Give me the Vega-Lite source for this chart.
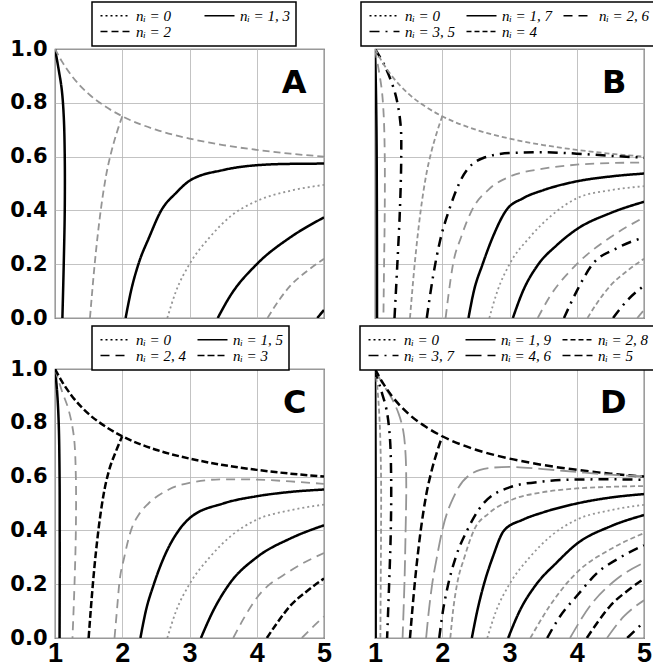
{
"$schema": "https://vega.github.io/schema/vega-lite/v6.json",
"padding": {"left": 9, "top": 0, "right": 0, "bottom": 0},
"config": {
 "view": {"stroke": "#333", "strokeWidth": 1.2},
 "axis": {"gridColor": "#b4b4b4", "gridWidth": 0.8, "ticks": false, "domain": false, "labelFontWeight": "bold", "labelColor": "black", "labelFlush": false},
 "axisX": {"labelFont": "Liberation Sans", "labelFontSize": 27, "labelPadding": 2},
 "axisY": {"labelFont": "DejaVu Sans", "labelFontSize": 21, "labelPadding": 8},
 "legend": {"labelFont": "Liberation Serif", "labelFontStyle": "italic", "labelFontSize": 15, "labelColor": "black", "symbolType": "M-1,0L5,0", "symbolSize": 100, "symbolStrokeWidth": 1.6, "symbolStrokeColor": "black", "symbolFillColor": "transparent", "strokeColor": "black", "strokeWidth": 1.5, "fillColor": "white", "padding": 6, "rowPadding": 0, "columnPadding": 8, "labelOffset": 23}
},
"datasets": {
 "Av": [
  {"c":"v25","s":"nᵢ = 1, 3","x":1,"y":1},{"c":"v25","s":"nᵢ = 1, 3","x":1.05,"y":0.93},{"c":"v25","s":"nᵢ = 1, 3","x":1.1,"y":0.85},{"c":"v25","s":"nᵢ = 1, 3","x":1.13,"y":0.75},{"c":"v25","s":"nᵢ = 1, 3","x":1.145,"y":0.6},{"c":"v25","s":"nᵢ = 1, 3","x":1.145,"y":0.4},{"c":"v25","s":"nᵢ = 1, 3","x":1.13,"y":0.2},{"c":"v25","s":"nᵢ = 1, 3","x":1.11,"y":0}
 ],
 "Ah": [
  {"c":"e","s":"nᵢ = 2","x":1,"y":1},{"c":"e","s":"nᵢ = 2","x":1.1,"y":0.955},{"c":"e","s":"nᵢ = 2","x":1.25,"y":0.9},{"c":"e","s":"nᵢ = 2","x":1.5,"y":0.833},{"c":"e","s":"nᵢ = 2","x":1.75,"y":0.786},{"c":"e","s":"nᵢ = 2","x":2,"y":0.75},{"c":"e","s":"nᵢ = 2","x":2.5,"y":0.7},{"c":"e","s":"nᵢ = 2","x":3,"y":0.667},{"c":"e","s":"nᵢ = 2","x":3.5,"y":0.643},{"c":"e","s":"nᵢ = 2","x":4,"y":0.625},{"c":"e","s":"nᵢ = 2","x":4.5,"y":0.611},{"c":"e","s":"nᵢ = 2","x":5,"y":0.6},
  {"c":"h50","s":"nᵢ = 2","x":1.52,"y":0},{"c":"h50","s":"nᵢ = 2","x":1.59,"y":0.2},{"c":"h50","s":"nᵢ = 2","x":1.68,"y":0.4},{"c":"h50","s":"nᵢ = 2","x":1.76,"y":0.53},{"c":"h50","s":"nᵢ = 2","x":1.84,"y":0.62},{"c":"h50","s":"nᵢ = 2","x":1.92,"y":0.69},{"c":"h50","s":"nᵢ = 2","x":2,"y":0.75},
  {"c":"h75","s":"nᵢ = 1, 3","x":2.05,"y":0},{"c":"h75","s":"nᵢ = 1, 3","x":2.13,"y":0.1},{"c":"h75","s":"nᵢ = 1, 3","x":2.24,"y":0.2},{"c":"h75","s":"nᵢ = 1, 3","x":2.4,"y":0.3},{"c":"h75","s":"nᵢ = 1, 3","x":2.58,"y":0.4},{"c":"h75","s":"nᵢ = 1, 3","x":2.8,"y":0.465},{"c":"h75","s":"nᵢ = 1, 3","x":3,"y":0.51},{"c":"h75","s":"nᵢ = 1, 3","x":3.5,"y":0.55},{"c":"h75","s":"nᵢ = 1, 3","x":4,"y":0.568},{"c":"h75","s":"nᵢ = 1, 3","x":4.5,"y":0.573},{"c":"h75","s":"nᵢ = 1, 3","x":5,"y":0.574},
  {"c":"h100","s":"nᵢ = 0","x":2.67,"y":0},{"c":"h100","s":"nᵢ = 0","x":2.8,"y":0.1},{"c":"h100","s":"nᵢ = 0","x":3,"y":0.2},{"c":"h100","s":"nᵢ = 0","x":3.3,"y":0.3},{"c":"h100","s":"nᵢ = 0","x":3.62,"y":0.38},{"c":"h100","s":"nᵢ = 0","x":4,"y":0.435},{"c":"h100","s":"nᵢ = 0","x":4.5,"y":0.473},{"c":"h100","s":"nᵢ = 0","x":5,"y":0.495},
  {"c":"h125","s":"nᵢ = 1, 3","x":3.42,"y":0},{"c":"h125","s":"nᵢ = 1, 3","x":3.6,"y":0.08},{"c":"h125","s":"nᵢ = 1, 3","x":4,"y":0.2},{"c":"h125","s":"nᵢ = 1, 3","x":4.5,"y":0.3},{"c":"h125","s":"nᵢ = 1, 3","x":5,"y":0.374},
  {"c":"h150","s":"nᵢ = 2","x":4.16,"y":0},{"c":"h150","s":"nᵢ = 2","x":4.3,"y":0.055},{"c":"h150","s":"nᵢ = 2","x":4.5,"y":0.12},{"c":"h150","s":"nᵢ = 2","x":4.75,"y":0.175},{"c":"h150","s":"nᵢ = 2","x":5,"y":0.22},
  {"c":"h175","s":"nᵢ = 1, 3","x":4.9,"y":0},{"c":"h175","s":"nᵢ = 1, 3","x":5,"y":0.03}
 ],
 "Bv": [
  {"c":"v125","s":"nᵢ = 1, 7","x":1,"y":1},{"c":"v125","s":"nᵢ = 1, 7","x":1.01,"y":0.9},{"c":"v125","s":"nᵢ = 1, 7","x":1.022,"y":0.7},{"c":"v125","s":"nᵢ = 1, 7","x":1.028,"y":0.4},{"c":"v125","s":"nᵢ = 1, 7","x":1.03,"y":0},
  {"c":"v25","s":"nᵢ = 2, 6","x":1,"y":1},{"c":"v25","s":"nᵢ = 2, 6","x":1.05,"y":0.93},{"c":"v25","s":"nᵢ = 2, 6","x":1.1,"y":0.85},{"c":"v25","s":"nᵢ = 2, 6","x":1.13,"y":0.75},{"c":"v25","s":"nᵢ = 2, 6","x":1.145,"y":0.6},{"c":"v25","s":"nᵢ = 2, 6","x":1.145,"y":0.4},{"c":"v25","s":"nᵢ = 2, 6","x":1.135,"y":0.2},{"c":"v25","s":"nᵢ = 2, 6","x":1.125,"y":0},
  {"c":"v375","s":"nᵢ = 3, 5","x":1,"y":1},{"c":"v375","s":"nᵢ = 3, 5","x":1.14,"y":0.94},{"c":"v375","s":"nᵢ = 3, 5","x":1.3,"y":0.835},{"c":"v375","s":"nᵢ = 3, 5","x":1.38,"y":0.72},{"c":"v375","s":"nᵢ = 3, 5","x":1.39,"y":0.6},{"c":"v375","s":"nᵢ = 3, 5","x":1.37,"y":0.4},{"c":"v375","s":"nᵢ = 3, 5","x":1.33,"y":0.19},{"c":"v375","s":"nᵢ = 3, 5","x":1.29,"y":0}
 ],
 "Bh": [
  {"c":"e","s":"nᵢ = 4","x":1,"y":1},{"c":"e","s":"nᵢ = 4","x":1.1,"y":0.955},{"c":"e","s":"nᵢ = 4","x":1.25,"y":0.9},{"c":"e","s":"nᵢ = 4","x":1.5,"y":0.833},{"c":"e","s":"nᵢ = 4","x":1.75,"y":0.786},{"c":"e","s":"nᵢ = 4","x":2,"y":0.75},{"c":"e","s":"nᵢ = 4","x":2.5,"y":0.7},{"c":"e","s":"nᵢ = 4","x":3,"y":0.667},{"c":"e","s":"nᵢ = 4","x":3.5,"y":0.643},{"c":"e","s":"nᵢ = 4","x":4,"y":0.625},{"c":"e","s":"nᵢ = 4","x":4.5,"y":0.611},{"c":"e","s":"nᵢ = 4","x":5,"y":0.6},
  {"c":"h50","s":"nᵢ = 4","x":1.52,"y":0},{"c":"h50","s":"nᵢ = 4","x":1.59,"y":0.2},{"c":"h50","s":"nᵢ = 4","x":1.68,"y":0.4},{"c":"h50","s":"nᵢ = 4","x":1.76,"y":0.53},{"c":"h50","s":"nᵢ = 4","x":1.84,"y":0.62},{"c":"h50","s":"nᵢ = 4","x":1.92,"y":0.69},{"c":"h50","s":"nᵢ = 4","x":2,"y":0.75},
  {"c":"h625","s":"nᵢ = 3, 5","x":1.77,"y":0},{"c":"h625","s":"nᵢ = 3, 5","x":1.86,"y":0.15},{"c":"h625","s":"nᵢ = 3, 5","x":1.97,"y":0.29},{"c":"h625","s":"nᵢ = 3, 5","x":2.1,"y":0.4},{"c":"h625","s":"nᵢ = 3, 5","x":2.27,"y":0.51},{"c":"h625","s":"nᵢ = 3, 5","x":2.6,"y":0.594},{"c":"h625","s":"nᵢ = 3, 5","x":3,"y":0.613},{"c":"h625","s":"nᵢ = 3, 5","x":3.5,"y":0.616},{"c":"h625","s":"nᵢ = 3, 5","x":4,"y":0.611},{"c":"h625","s":"nᵢ = 3, 5","x":4.5,"y":0.603},{"c":"h625","s":"nᵢ = 3, 5","x":5,"y":0.596},
  {"c":"h75","s":"nᵢ = 2, 6","x":2.05,"y":0},{"c":"h75","s":"nᵢ = 2, 6","x":2.1,"y":0.1},{"c":"h75","s":"nᵢ = 2, 6","x":2.16,"y":0.2},{"c":"h75","s":"nᵢ = 2, 6","x":2.28,"y":0.3},{"c":"h75","s":"nᵢ = 2, 6","x":2.44,"y":0.4},{"c":"h75","s":"nᵢ = 2, 6","x":2.7,"y":0.48},{"c":"h75","s":"nᵢ = 2, 6","x":3,"y":0.525},{"c":"h75","s":"nᵢ = 2, 6","x":3.5,"y":0.555},{"c":"h75","s":"nᵢ = 2, 6","x":4,"y":0.57},{"c":"h75","s":"nᵢ = 2, 6","x":4.5,"y":0.576},{"c":"h75","s":"nᵢ = 2, 6","x":5,"y":0.578},
  {"c":"h875","s":"nᵢ = 1, 7","x":2.39,"y":0},{"c":"h875","s":"nᵢ = 1, 7","x":2.47,"y":0.1},{"c":"h875","s":"nᵢ = 1, 7","x":2.6,"y":0.2},{"c":"h875","s":"nᵢ = 1, 7","x":2.75,"y":0.3},{"c":"h875","s":"nᵢ = 1, 7","x":2.95,"y":0.4},{"c":"h875","s":"nᵢ = 1, 7","x":3.2,"y":0.445},{"c":"h875","s":"nᵢ = 1, 7","x":3.5,"y":0.475},{"c":"h875","s":"nᵢ = 1, 7","x":4,"y":0.508},{"c":"h875","s":"nᵢ = 1, 7","x":4.5,"y":0.526},{"c":"h875","s":"nᵢ = 1, 7","x":5,"y":0.537},
  {"c":"h100","s":"nᵢ = 0","x":2.7,"y":0},{"c":"h100","s":"nᵢ = 0","x":2.82,"y":0.1},{"c":"h100","s":"nᵢ = 0","x":3,"y":0.2},{"c":"h100","s":"nᵢ = 0","x":3.3,"y":0.3},{"c":"h100","s":"nᵢ = 0","x":3.62,"y":0.38},{"c":"h100","s":"nᵢ = 0","x":4,"y":0.445},{"c":"h100","s":"nᵢ = 0","x":4.5,"y":0.475},{"c":"h100","s":"nᵢ = 0","x":5,"y":0.49},
  {"c":"h1125","s":"nᵢ = 1, 7","x":3.05,"y":0},{"c":"h1125","s":"nᵢ = 1, 7","x":3.2,"y":0.1},{"c":"h1125","s":"nᵢ = 1, 7","x":3.43,"y":0.2},{"c":"h1125","s":"nᵢ = 1, 7","x":3.7,"y":0.27},{"c":"h1125","s":"nᵢ = 1, 7","x":4,"y":0.33},{"c":"h1125","s":"nᵢ = 1, 7","x":4.5,"y":0.39},{"c":"h1125","s":"nᵢ = 1, 7","x":5,"y":0.432},
  {"c":"h125","s":"nᵢ = 2, 6","x":3.42,"y":0},{"c":"h125","s":"nᵢ = 2, 6","x":3.6,"y":0.08},{"c":"h125","s":"nᵢ = 2, 6","x":4,"y":0.2},{"c":"h125","s":"nᵢ = 2, 6","x":4.5,"y":0.3},{"c":"h125","s":"nᵢ = 2, 6","x":5,"y":0.374},
  {"c":"h1375","s":"nᵢ = 3, 5","x":3.81,"y":0},{"c":"h1375","s":"nᵢ = 3, 5","x":4,"y":0.1},{"c":"h1375","s":"nᵢ = 3, 5","x":4.22,"y":0.195},{"c":"h1375","s":"nᵢ = 3, 5","x":4.6,"y":0.26},{"c":"h1375","s":"nᵢ = 3, 5","x":5,"y":0.3},
  {"c":"h150","s":"nᵢ = 4","x":4.16,"y":0},{"c":"h150","s":"nᵢ = 4","x":4.3,"y":0.055},{"c":"h150","s":"nᵢ = 4","x":4.5,"y":0.12},{"c":"h150","s":"nᵢ = 4","x":4.75,"y":0.175},{"c":"h150","s":"nᵢ = 4","x":5,"y":0.22},
  {"c":"h1625","s":"nᵢ = 3, 5","x":4.54,"y":0},{"c":"h1625","s":"nᵢ = 3, 5","x":4.75,"y":0.065},{"c":"h1625","s":"nᵢ = 3, 5","x":5,"y":0.12},
  {"c":"h175","s":"nᵢ = 2, 6","x":4.9,"y":0},{"c":"h175","s":"nᵢ = 2, 6","x":5,"y":0.03}
 ],
 "Cv": [
  {"c":"v167","s":"nᵢ = 1, 5","x":1,"y":1},{"c":"v167","s":"nᵢ = 1, 5","x":1.03,"y":0.92},{"c":"v167","s":"nᵢ = 1, 5","x":1.055,"y":0.8},{"c":"v167","s":"nᵢ = 1, 5","x":1.068,"y":0.6},{"c":"v167","s":"nᵢ = 1, 5","x":1.07,"y":0.4},{"c":"v167","s":"nᵢ = 1, 5","x":1.07,"y":0.2},{"c":"v167","s":"nᵢ = 1, 5","x":1.068,"y":0},
  {"c":"v333","s":"nᵢ = 2, 4","x":1,"y":1},{"c":"v333","s":"nᵢ = 2, 4","x":1.1,"y":0.92},{"c":"v333","s":"nᵢ = 2, 4","x":1.2,"y":0.85},{"c":"v333","s":"nᵢ = 2, 4","x":1.28,"y":0.75},{"c":"v333","s":"nᵢ = 2, 4","x":1.31,"y":0.6},{"c":"v333","s":"nᵢ = 2, 4","x":1.31,"y":0.4},{"c":"v333","s":"nᵢ = 2, 4","x":1.29,"y":0.2},{"c":"v333","s":"nᵢ = 2, 4","x":1.26,"y":0}
 ],
 "Ch": [
  {"c":"e","s":"nᵢ = 3","x":1,"y":1},{"c":"e","s":"nᵢ = 3","x":1.1,"y":0.955},{"c":"e","s":"nᵢ = 3","x":1.25,"y":0.9},{"c":"e","s":"nᵢ = 3","x":1.5,"y":0.833},{"c":"e","s":"nᵢ = 3","x":1.75,"y":0.786},{"c":"e","s":"nᵢ = 3","x":2,"y":0.75},{"c":"e","s":"nᵢ = 3","x":2.5,"y":0.7},{"c":"e","s":"nᵢ = 3","x":3,"y":0.667},{"c":"e","s":"nᵢ = 3","x":3.5,"y":0.643},{"c":"e","s":"nᵢ = 3","x":4,"y":0.625},{"c":"e","s":"nᵢ = 3","x":4.5,"y":0.611},{"c":"e","s":"nᵢ = 3","x":5,"y":0.6},
  {"c":"h50","s":"nᵢ = 3","x":1.5,"y":0},{"c":"h50","s":"nᵢ = 3","x":1.57,"y":0.22},{"c":"h50","s":"nᵢ = 3","x":1.65,"y":0.41},{"c":"h50","s":"nᵢ = 3","x":1.72,"y":0.53},{"c":"h50","s":"nᵢ = 3","x":1.8,"y":0.62},{"c":"h50","s":"nᵢ = 3","x":1.9,"y":0.69},{"c":"h50","s":"nᵢ = 3","x":2,"y":0.75},
  {"c":"h667","s":"nᵢ = 2, 4","x":1.885,"y":0},{"c":"h667","s":"nᵢ = 2, 4","x":1.92,"y":0.1},{"c":"h667","s":"nᵢ = 2, 4","x":1.955,"y":0.2},{"c":"h667","s":"nᵢ = 2, 4","x":2.03,"y":0.3},{"c":"h667","s":"nᵢ = 2, 4","x":2.13,"y":0.4},{"c":"h667","s":"nᵢ = 2, 4","x":2.25,"y":0.46},{"c":"h667","s":"nᵢ = 2, 4","x":2.39,"y":0.5},{"c":"h667","s":"nᵢ = 2, 4","x":2.7,"y":0.553},{"c":"h667","s":"nᵢ = 2, 4","x":3,"y":0.577},{"c":"h667","s":"nᵢ = 2, 4","x":3.5,"y":0.59},{"c":"h667","s":"nᵢ = 2, 4","x":4,"y":0.589},{"c":"h667","s":"nᵢ = 2, 4","x":4.5,"y":0.582},{"c":"h667","s":"nᵢ = 2, 4","x":5,"y":0.573},
  {"c":"h833","s":"nᵢ = 1, 5","x":2.27,"y":0},{"c":"h833","s":"nᵢ = 1, 5","x":2.35,"y":0.1},{"c":"h833","s":"nᵢ = 1, 5","x":2.47,"y":0.2},{"c":"h833","s":"nᵢ = 1, 5","x":2.62,"y":0.3},{"c":"h833","s":"nᵢ = 1, 5","x":2.84,"y":0.4},{"c":"h833","s":"nᵢ = 1, 5","x":3,"y":0.445},{"c":"h833","s":"nᵢ = 1, 5","x":3.5,"y":0.5},{"c":"h833","s":"nᵢ = 1, 5","x":4,"y":0.527},{"c":"h833","s":"nᵢ = 1, 5","x":4.5,"y":0.543},{"c":"h833","s":"nᵢ = 1, 5","x":5,"y":0.552},
  {"c":"h100","s":"nᵢ = 0","x":2.67,"y":0},{"c":"h100","s":"nᵢ = 0","x":2.8,"y":0.1},{"c":"h100","s":"nᵢ = 0","x":3,"y":0.2},{"c":"h100","s":"nᵢ = 0","x":3.3,"y":0.3},{"c":"h100","s":"nᵢ = 0","x":3.62,"y":0.38},{"c":"h100","s":"nᵢ = 0","x":4,"y":0.44},{"c":"h100","s":"nᵢ = 0","x":4.5,"y":0.475},{"c":"h100","s":"nᵢ = 0","x":5,"y":0.496},
  {"c":"h1167","s":"nᵢ = 1, 5","x":3.17,"y":0},{"c":"h1167","s":"nᵢ = 1, 5","x":3.35,"y":0.1},{"c":"h1167","s":"nᵢ = 1, 5","x":3.59,"y":0.2},{"c":"h1167","s":"nᵢ = 1, 5","x":4,"y":0.3},{"c":"h1167","s":"nᵢ = 1, 5","x":4.5,"y":0.37},{"c":"h1167","s":"nᵢ = 1, 5","x":5,"y":0.419},
  {"c":"h1333","s":"nᵢ = 2, 4","x":3.65,"y":0},{"c":"h1333","s":"nᵢ = 2, 4","x":3.8,"y":0.07},{"c":"h1333","s":"nᵢ = 2, 4","x":4,"y":0.149},{"c":"h1333","s":"nᵢ = 2, 4","x":4.5,"y":0.25},{"c":"h1333","s":"nᵢ = 2, 4","x":5,"y":0.316},
  {"c":"h150","s":"nᵢ = 3","x":4.15,"y":0},{"c":"h150","s":"nᵢ = 3","x":4.3,"y":0.055},{"c":"h150","s":"nᵢ = 3","x":4.5,"y":0.12},{"c":"h150","s":"nᵢ = 3","x":4.75,"y":0.175},{"c":"h150","s":"nᵢ = 3","x":5,"y":0.221},
  {"c":"h1667","s":"nᵢ = 2, 4","x":4.67,"y":0},{"c":"h1667","s":"nᵢ = 2, 4","x":4.85,"y":0.045},{"c":"h1667","s":"nᵢ = 2, 4","x":5,"y":0.08}
 ],
 "Dv": [
  {"c":"v10","s":"nᵢ = 1, 9","x":1,"y":1},{"c":"v10","s":"nᵢ = 1, 9","x":1.004,"y":0.9},{"c":"v10","s":"nᵢ = 1, 9","x":1.008,"y":0.7},{"c":"v10","s":"nᵢ = 1, 9","x":1.01,"y":0.4},{"c":"v10","s":"nᵢ = 1, 9","x":1.01,"y":0},
  {"c":"v20","s":"nᵢ = 2, 8","x":1,"y":1},{"c":"v20","s":"nᵢ = 2, 8","x":1.035,"y":0.93},{"c":"v20","s":"nᵢ = 2, 8","x":1.07,"y":0.8},{"c":"v20","s":"nᵢ = 2, 8","x":1.09,"y":0.6},{"c":"v20","s":"nᵢ = 2, 8","x":1.09,"y":0.4},{"c":"v20","s":"nᵢ = 2, 8","x":1.085,"y":0.2},{"c":"v20","s":"nᵢ = 2, 8","x":1.08,"y":0},
  {"c":"v30","s":"nᵢ = 3, 7","x":1,"y":1},{"c":"v30","s":"nᵢ = 3, 7","x":1.08,"y":0.93},{"c":"v30","s":"nᵢ = 3, 7","x":1.17,"y":0.85},{"c":"v30","s":"nᵢ = 3, 7","x":1.22,"y":0.75},{"c":"v30","s":"nᵢ = 3, 7","x":1.24,"y":0.6},{"c":"v30","s":"nᵢ = 3, 7","x":1.235,"y":0.4},{"c":"v30","s":"nᵢ = 3, 7","x":1.21,"y":0.2},{"c":"v30","s":"nᵢ = 3, 7","x":1.18,"y":0},
  {"c":"v40","s":"nᵢ = 4, 6","x":1,"y":1},{"c":"v40","s":"nᵢ = 4, 6","x":1.1,"y":0.95},{"c":"v40","s":"nᵢ = 4, 6","x":1.24,"y":0.895},{"c":"v40","s":"nᵢ = 4, 6","x":1.35,"y":0.835},{"c":"v40","s":"nᵢ = 4, 6","x":1.42,"y":0.77},{"c":"v40","s":"nᵢ = 4, 6","x":1.455,"y":0.68},{"c":"v40","s":"nᵢ = 4, 6","x":1.465,"y":0.55},{"c":"v40","s":"nᵢ = 4, 6","x":1.455,"y":0.4},{"c":"v40","s":"nᵢ = 4, 6","x":1.44,"y":0.22},{"c":"v40","s":"nᵢ = 4, 6","x":1.41,"y":0}
 ],
 "Dh": [
  {"c":"e","s":"nᵢ = 5","x":1,"y":1},{"c":"e","s":"nᵢ = 5","x":1.1,"y":0.955},{"c":"e","s":"nᵢ = 5","x":1.25,"y":0.9},{"c":"e","s":"nᵢ = 5","x":1.5,"y":0.833},{"c":"e","s":"nᵢ = 5","x":1.75,"y":0.786},{"c":"e","s":"nᵢ = 5","x":2,"y":0.75},{"c":"e","s":"nᵢ = 5","x":2.5,"y":0.7},{"c":"e","s":"nᵢ = 5","x":3,"y":0.667},{"c":"e","s":"nᵢ = 5","x":3.5,"y":0.643},{"c":"e","s":"nᵢ = 5","x":4,"y":0.625},{"c":"e","s":"nᵢ = 5","x":4.5,"y":0.611},{"c":"e","s":"nᵢ = 5","x":5,"y":0.6},
  {"c":"h50","s":"nᵢ = 5","x":1.52,"y":0},{"c":"h50","s":"nᵢ = 5","x":1.59,"y":0.2},{"c":"h50","s":"nᵢ = 5","x":1.68,"y":0.4},{"c":"h50","s":"nᵢ = 5","x":1.76,"y":0.53},{"c":"h50","s":"nᵢ = 5","x":1.84,"y":0.62},{"c":"h50","s":"nᵢ = 5","x":1.92,"y":0.69},{"c":"h50","s":"nᵢ = 5","x":2,"y":0.75},
  {"c":"h60","s":"nᵢ = 4, 6","x":1.76,"y":0},{"c":"h60","s":"nᵢ = 4, 6","x":1.8,"y":0.1},{"c":"h60","s":"nᵢ = 4, 6","x":1.85,"y":0.2},{"c":"h60","s":"nᵢ = 4, 6","x":1.92,"y":0.3},{"c":"h60","s":"nᵢ = 4, 6","x":2,"y":0.4},{"c":"h60","s":"nᵢ = 4, 6","x":2.2,"y":0.54},{"c":"h60","s":"nᵢ = 4, 6","x":2.43,"y":0.61},{"c":"h60","s":"nᵢ = 4, 6","x":2.7,"y":0.632},{"c":"h60","s":"nᵢ = 4, 6","x":3,"y":0.636},{"c":"h60","s":"nᵢ = 4, 6","x":3.5,"y":0.628},{"c":"h60","s":"nᵢ = 4, 6","x":4,"y":0.617},{"c":"h60","s":"nᵢ = 4, 6","x":4.5,"y":0.607},{"c":"h60","s":"nᵢ = 4, 6","x":5,"y":0.601},
  {"c":"h70","s":"nᵢ = 3, 7","x":1.955,"y":0},{"c":"h70","s":"nᵢ = 3, 7","x":2.01,"y":0.1},{"c":"h70","s":"nᵢ = 3, 7","x":2.08,"y":0.19},{"c":"h70","s":"nᵢ = 3, 7","x":2.2,"y":0.3},{"c":"h70","s":"nᵢ = 3, 7","x":2.38,"y":0.405},{"c":"h70","s":"nᵢ = 3, 7","x":2.55,"y":0.48},{"c":"h70","s":"nᵢ = 3, 7","x":3,"y":0.56},{"c":"h70","s":"nᵢ = 3, 7","x":3.5,"y":0.582},{"c":"h70","s":"nᵢ = 3, 7","x":4,"y":0.589},{"c":"h70","s":"nᵢ = 3, 7","x":4.5,"y":0.59},{"c":"h70","s":"nᵢ = 3, 7","x":5,"y":0.588},
  {"c":"h80","s":"nᵢ = 2, 8","x":2.12,"y":0},{"c":"h80","s":"nᵢ = 2, 8","x":2.16,"y":0.1},{"c":"h80","s":"nᵢ = 2, 8","x":2.22,"y":0.2},{"c":"h80","s":"nᵢ = 2, 8","x":2.33,"y":0.3},{"c":"h80","s":"nᵢ = 2, 8","x":2.47,"y":0.4},{"c":"h80","s":"nᵢ = 2, 8","x":2.7,"y":0.465},{"c":"h80","s":"nᵢ = 2, 8","x":3,"y":0.51},{"c":"h80","s":"nᵢ = 2, 8","x":3.5,"y":0.542},{"c":"h80","s":"nᵢ = 2, 8","x":4,"y":0.556},{"c":"h80","s":"nᵢ = 2, 8","x":4.5,"y":0.562},{"c":"h80","s":"nᵢ = 2, 8","x":5,"y":0.565},
  {"c":"h90","s":"nᵢ = 1, 9","x":2.44,"y":0},{"c":"h90","s":"nᵢ = 1, 9","x":2.52,"y":0.1},{"c":"h90","s":"nᵢ = 1, 9","x":2.62,"y":0.2},{"c":"h90","s":"nᵢ = 1, 9","x":2.75,"y":0.3},{"c":"h90","s":"nᵢ = 1, 9","x":2.92,"y":0.4},{"c":"h90","s":"nᵢ = 1, 9","x":3.2,"y":0.44},{"c":"h90","s":"nᵢ = 1, 9","x":3.5,"y":0.467},{"c":"h90","s":"nᵢ = 1, 9","x":4,"y":0.5},{"c":"h90","s":"nᵢ = 1, 9","x":4.5,"y":0.522},{"c":"h90","s":"nᵢ = 1, 9","x":5,"y":0.535},
  {"c":"h100","s":"nᵢ = 0","x":2.67,"y":0},{"c":"h100","s":"nᵢ = 0","x":2.8,"y":0.1},{"c":"h100","s":"nᵢ = 0","x":3,"y":0.2},{"c":"h100","s":"nᵢ = 0","x":3.3,"y":0.3},{"c":"h100","s":"nᵢ = 0","x":3.62,"y":0.38},{"c":"h100","s":"nᵢ = 0","x":4,"y":0.44},{"c":"h100","s":"nᵢ = 0","x":4.5,"y":0.475},{"c":"h100","s":"nᵢ = 0","x":5,"y":0.495},
  {"c":"h110","s":"nᵢ = 1, 9","x":2.98,"y":0},{"c":"h110","s":"nᵢ = 1, 9","x":3.15,"y":0.1},{"c":"h110","s":"nᵢ = 1, 9","x":3.4,"y":0.2},{"c":"h110","s":"nᵢ = 1, 9","x":3.7,"y":0.28},{"c":"h110","s":"nᵢ = 1, 9","x":4,"y":0.35},{"c":"h110","s":"nᵢ = 1, 9","x":4.5,"y":0.415},{"c":"h110","s":"nᵢ = 1, 9","x":5,"y":0.457},
  {"c":"h120","s":"nᵢ = 2, 8","x":3.31,"y":0},{"c":"h120","s":"nᵢ = 2, 8","x":3.6,"y":0.12},{"c":"h120","s":"nᵢ = 2, 8","x":4,"y":0.243},{"c":"h120","s":"nᵢ = 2, 8","x":4.5,"y":0.33},{"c":"h120","s":"nᵢ = 2, 8","x":5,"y":0.39},
  {"c":"h130","s":"nᵢ = 3, 7","x":3.56,"y":0},{"c":"h130","s":"nᵢ = 3, 7","x":3.75,"y":0.08},{"c":"h130","s":"nᵢ = 3, 7","x":4,"y":0.156},{"c":"h130","s":"nᵢ = 3, 7","x":4.31,"y":0.243},{"c":"h130","s":"nᵢ = 3, 7","x":4.65,"y":0.3},{"c":"h130","s":"nᵢ = 3, 7","x":5,"y":0.345},
  {"c":"h140","s":"nᵢ = 4, 6","x":3.9,"y":0},{"c":"h140","s":"nᵢ = 4, 6","x":4.2,"y":0.12},{"c":"h140","s":"nᵢ = 4, 6","x":4.6,"y":0.22},{"c":"h140","s":"nᵢ = 4, 6","x":5,"y":0.28},
  {"c":"h150","s":"nᵢ = 5","x":4.15,"y":0},{"c":"h150","s":"nᵢ = 5","x":4.3,"y":0.055},{"c":"h150","s":"nᵢ = 5","x":4.5,"y":0.12},{"c":"h150","s":"nᵢ = 5","x":4.75,"y":0.175},{"c":"h150","s":"nᵢ = 5","x":5,"y":0.22},
  {"c":"h160","s":"nᵢ = 4, 6","x":4.45,"y":0},{"c":"h160","s":"nᵢ = 4, 6","x":4.7,"y":0.08},{"c":"h160","s":"nᵢ = 4, 6","x":5,"y":0.14},
  {"c":"h170","s":"nᵢ = 3, 7","x":4.75,"y":0},{"c":"h170","s":"nᵢ = 3, 7","x":5,"y":0.06}
 ]
},
"concat": [
 {
  "width": 269, "height": 269,
  "layer": [
   {
    "encoding": {
     "x": {"field": "x", "type": "quantitative", "scale": {"domain": [1,5], "nice": false, "zero": false}, "axis": {"values": [1,2,3,4,5], "labels": false, "title": null}},
     "y": {"field": "y", "type": "quantitative", "scale": {"domain": [0,1], "nice": false, "zero": false}, "axis": {"values": [0,0.2,0.4,0.6,0.8,1], "format": ".1f", "title": null}},
     "detail": {"field": "c"},
     "stroke": {"condition": {"test": "datum.s == 'nᵢ = 0' || datum.s == 'nᵢ = 2'", "value": "#959595"}, "value": "#000000"},
     "strokeDash": {"field": "s", "type": "nominal", "scale": {"domain": ["nᵢ = 0","nᵢ = 1, 3","nᵢ = 2"], "range": [[2,3],[1,0],[7,4]]}, "legend": {"orient": "none", "legendX": 37, "legendY": -47, "columns": 2, "direction": "horizontal", "title": null, "symbolStrokeColor": "black", "columnPadding": 30}},
     "strokeWidth": {"condition": {"test": "datum.s == 'nᵢ = 0' || datum.s == 'nᵢ = 2'", "value": 1.8}, "value": 2.5}
    },
    "layer": [
     {"data": {"name": "Av"}, "mark": {"type": "line", "interpolate": "catmull-rom", "clip": true}, "encoding": {"order": {"field": "y", "sort": "descending"}}},
     {"data": {"name": "Ah"}, "mark": {"type": "line", "interpolate": "monotone", "clip": true}}
    ]
   },
   {"data": {"values": [{}]}, "mark": {"type": "text", "text": "A", "align": "right", "baseline": "alphabetic", "font": "DejaVu Sans", "fontWeight": "bold", "fontSize": 32, "color": "black"}, "encoding": {"x": {"datum": 4.74, "type": "quantitative"}, "y": {"datum": 0.835, "type": "quantitative"}}}
  ]
 },
 {
  "width": 269, "height": 269,
  "layer": [
   {
    "encoding": {
     "x": {"field": "x", "type": "quantitative", "scale": {"domain": [1,5], "nice": false, "zero": false}, "axis": {"values": [1,2,3,4,5], "labels": false, "title": null}},
     "y": {"field": "y", "type": "quantitative", "scale": {"domain": [0,1], "nice": false, "zero": false}, "axis": {"values": [0,0.2,0.4,0.6,0.8,1], "labels": false, "title": null}},
     "detail": {"field": "c"},
     "stroke": {"condition": {"test": "datum.s == 'nᵢ = 0' || datum.s == 'nᵢ = 2, 6' || datum.s == 'nᵢ = 4'", "value": "#959595"}, "value": "#000000"},
     "strokeDash": {"field": "s", "type": "nominal", "scale": {"domain": ["nᵢ = 0","nᵢ = 1, 7","nᵢ = 2, 6","nᵢ = 3, 5","nᵢ = 4"], "range": [[2,3],[1,0],[9,6],[10,6,2,6],[5,3]]}, "legend": {"orient": "none", "legendX": -14, "legendY": -47, "columns": 3, "direction": "horizontal", "title": null, "symbolStrokeColor": "black", "columnPadding": 8}},
     "strokeWidth": {"condition": {"test": "datum.s == 'nᵢ = 0' || datum.s == 'nᵢ = 2, 6' || datum.s == 'nᵢ = 4'", "value": 1.8}, "value": 2.5}
    },
    "layer": [
     {"data": {"name": "Bv"}, "mark": {"type": "line", "interpolate": "catmull-rom", "clip": true}, "encoding": {"order": {"field": "y", "sort": "descending"}}},
     {"data": {"name": "Bh"}, "mark": {"type": "line", "interpolate": "monotone", "clip": true}}
    ]
   },
   {"data": {"values": [{}]}, "mark": {"type": "text", "text": "B", "align": "right", "baseline": "alphabetic", "font": "DejaVu Sans", "fontWeight": "bold", "fontSize": 32, "color": "black"}, "encoding": {"x": {"datum": 4.74, "type": "quantitative"}, "y": {"datum": 0.835, "type": "quantitative"}}}
  ]
 },
 {
  "width": 269, "height": 269,
  "layer": [
   {
    "encoding": {
     "x": {"field": "x", "type": "quantitative", "scale": {"domain": [1,5], "nice": false, "zero": false}, "axis": {"values": [1,2,3,4,5], "format": "d", "title": null}},
     "y": {"field": "y", "type": "quantitative", "scale": {"domain": [0,1], "nice": false, "zero": false}, "axis": {"values": [0,0.2,0.4,0.6,0.8,1], "format": ".1f", "title": null}},
     "detail": {"field": "c"},
     "stroke": {"condition": {"test": "datum.s == 'nᵢ = 0' || datum.s == 'nᵢ = 2, 4'", "value": "#959595"}, "value": "#000000"},
     "strokeDash": {"field": "s", "type": "nominal", "scale": {"domain": ["nᵢ = 0","nᵢ = 1, 5","nᵢ = 2, 4","nᵢ = 3"], "range": [[2,3],[1,0],[9,6],[7,3]]}, "legend": {"orient": "none", "legendX": 37, "legendY": -43, "columns": 2, "direction": "horizontal", "title": null, "symbolStrokeColor": "black", "columnPadding": 8}},
     "strokeWidth": {"condition": {"test": "datum.s == 'nᵢ = 0' || datum.s == 'nᵢ = 2, 4'", "value": 1.8}, "value": 2.5}
    },
    "layer": [
     {"data": {"name": "Cv"}, "mark": {"type": "line", "interpolate": "catmull-rom", "clip": true}, "encoding": {"order": {"field": "y", "sort": "descending"}}},
     {"data": {"name": "Ch"}, "mark": {"type": "line", "interpolate": "monotone", "clip": true}}
    ]
   },
   {"data": {"values": [{}]}, "mark": {"type": "text", "text": "C", "align": "right", "baseline": "alphabetic", "font": "DejaVu Sans", "fontWeight": "bold", "fontSize": 32, "color": "black"}, "encoding": {"x": {"datum": 4.74, "type": "quantitative"}, "y": {"datum": 0.835, "type": "quantitative"}}}
  ]
 },
 {
  "width": 269, "height": 269,
  "layer": [
   {
    "encoding": {
     "x": {"field": "x", "type": "quantitative", "scale": {"domain": [1,5], "nice": false, "zero": false}, "axis": {"values": [1,2,3,4,5], "format": "d", "title": null}},
     "y": {"field": "y", "type": "quantitative", "scale": {"domain": [0,1], "nice": false, "zero": false}, "axis": {"values": [0,0.2,0.4,0.6,0.8,1], "labels": false, "title": null}},
     "detail": {"field": "c"},
     "stroke": {"condition": {"test": "datum.s == 'nᵢ = 0' || datum.s == 'nᵢ = 2, 8' || datum.s == 'nᵢ = 4, 6'", "value": "#959595"}, "value": "#000000"},
     "strokeDash": {"field": "s", "type": "nominal", "scale": {"domain": ["nᵢ = 0","nᵢ = 1, 9","nᵢ = 2, 8","nᵢ = 3, 7","nᵢ = 4, 6","nᵢ = 5"], "range": [[2,3],[1,0],[5,3],[10,6,2,6],[16,6],[8,4]]}, "legend": {"orient": "none", "legendX": -15, "legendY": -43, "columns": 3, "direction": "horizontal", "title": null, "symbolStrokeColor": "black", "columnPadding": 8}},
     "strokeWidth": {"condition": {"test": "datum.s == 'nᵢ = 0' || datum.s == 'nᵢ = 2, 8' || datum.s == 'nᵢ = 4, 6'", "value": 1.8}, "value": 2.5}
    },
    "layer": [
     {"data": {"name": "Dv"}, "mark": {"type": "line", "interpolate": "catmull-rom", "clip": true}, "encoding": {"order": {"field": "y", "sort": "descending"}}},
     {"data": {"name": "Dh"}, "mark": {"type": "line", "interpolate": "monotone", "clip": true}}
    ]
   },
   {"data": {"values": [{}]}, "mark": {"type": "text", "text": "D", "align": "right", "baseline": "alphabetic", "font": "DejaVu Sans", "fontWeight": "bold", "fontSize": 32, "color": "black"}, "encoding": {"x": {"datum": 4.74, "type": "quantitative"}, "y": {"datum": 0.835, "type": "quantitative"}}}
  ]
 }
],
"columns": 2,
"spacing": 51,
"bounds": "flush",
"resolve": {"scale": {"strokeDash": "independent", "x": "independent", "y": "independent"}, "legend": {"strokeDash": "independent"}}
}
